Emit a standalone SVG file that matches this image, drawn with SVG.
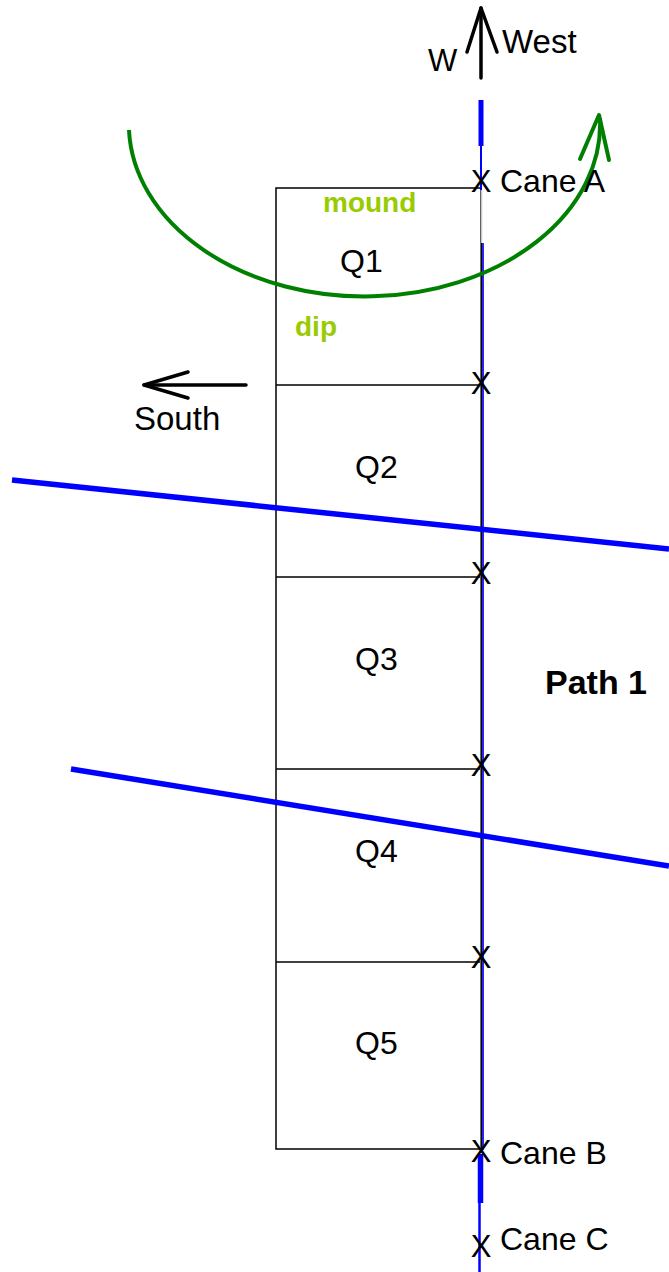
<svg xmlns="http://www.w3.org/2000/svg" width="669" height="1272" viewBox="0 0 669 1272">
<style>
.t{font-family:"Liberation Sans",Arial,sans-serif;fill:#000}
.g{font-family:"Liberation Sans",Arial,sans-serif;fill:#99cc00;font-weight:bold}
.thin{stroke:#000;stroke-width:1.5;fill:none}
.blk{stroke:#000;stroke-width:3.5;fill:none;stroke-linecap:round;stroke-linejoin:round}
.x{font-family:"Liberation Sans",Arial,sans-serif;fill:#000;font-size:31px;text-anchor:middle}
</style>
<rect width="669" height="1272" fill="#fff"/>
<g id="rows">
<rect x="276" y="188" width="205" height="961" class="thin"/>
<line x1="276" y1="385" x2="481" y2="385" class="thin"/>
<line x1="276" y1="577" x2="481" y2="577" class="thin"/>
<line x1="276" y1="769" x2="481" y2="769" class="thin"/>
<line x1="276" y1="962" x2="481" y2="962" class="thin"/>
</g>
<g id="connectors">
<line x1="481.5" y1="190" x2="481.5" y2="243" stroke="#c8c8c8" stroke-width="1.5"/>
<line x1="482" y1="243" x2="482" y2="1150" stroke="#c0c0c0" stroke-width="4"/>
<line x1="481.3" y1="243" x2="481.3" y2="1150" stroke="#000" stroke-width="1.5"/>
<line x1="483" y1="243" x2="483" y2="1150" stroke="#0000ff" stroke-width="1.6"/>
<line x1="481" y1="100" x2="481" y2="146" stroke="#0000ff" stroke-width="5"/>
<line x1="481" y1="146" x2="481" y2="190" stroke="#0000ff" stroke-width="2"/>
<line x1="480.5" y1="1154" x2="480.5" y2="1203" stroke="#0000ff" stroke-width="5.5"/>
<line x1="479.5" y1="1203" x2="479.5" y2="1272" stroke="#0000ff" stroke-width="2.5"/>
<line x1="12" y1="480" x2="669" y2="549" stroke="#0000ff" stroke-width="5.5"/>
<line x1="71" y1="769" x2="669" y2="866" stroke="#0000ff" stroke-width="5.5"/>
<path d="M129,130 A235,172 0 0 0 600,118" stroke="#008000" stroke-width="4" fill="none"/>
<path d="M580,159 L599,115 L609,160" stroke="#008000" stroke-width="4" fill="none" stroke-linecap="round" stroke-linejoin="round"/>
<line x1="481" y1="78" x2="481" y2="8" class="blk"/>
<path d="M467,52 L481,8 L497,52" class="blk"/>
<line x1="246" y1="385" x2="144" y2="385" class="blk"/>
<path d="M188,372 L144,385 L188,398" class="blk"/>
</g>
<g id="labels">
<text x="428" y="71" class="t" font-size="31">W</text>
<text x="502" y="53" class="t" font-size="33">West</text>
<text x="481" y="192" class="x">X</text>
<text x="500" y="192" class="t" font-size="32">Cane A</text>
<text x="323" y="212" class="g" font-size="28">mound</text>
<text x="340" y="272" class="t" font-size="32">Q1</text>
<text x="295" y="336" class="g" font-size="28">dip</text>
<text x="481" y="394" class="x">X</text>
<text x="134" y="430" class="t" font-size="33">South</text>
<text x="355" y="478" class="t" font-size="32">Q2</text>
<text x="481" y="584" class="x">X</text>
<text x="355" y="670" class="t" font-size="32">Q3</text>
<text x="545" y="694" class="t" font-size="34" font-weight="bold">Path 1</text>
<text x="481" y="776" class="x">X</text>
<text x="355" y="862" class="t" font-size="32">Q4</text>
<text x="481" y="968" class="x">X</text>
<text x="355" y="1054" class="t" font-size="32">Q5</text>
<text x="481" y="1162" class="x">X</text>
<text x="500" y="1164" class="t" font-size="32">Cane B</text>
<text x="481" y="1257" class="x">X</text>
<text x="500" y="1250" class="t" font-size="32">Cane C</text>
</g>
</svg>
